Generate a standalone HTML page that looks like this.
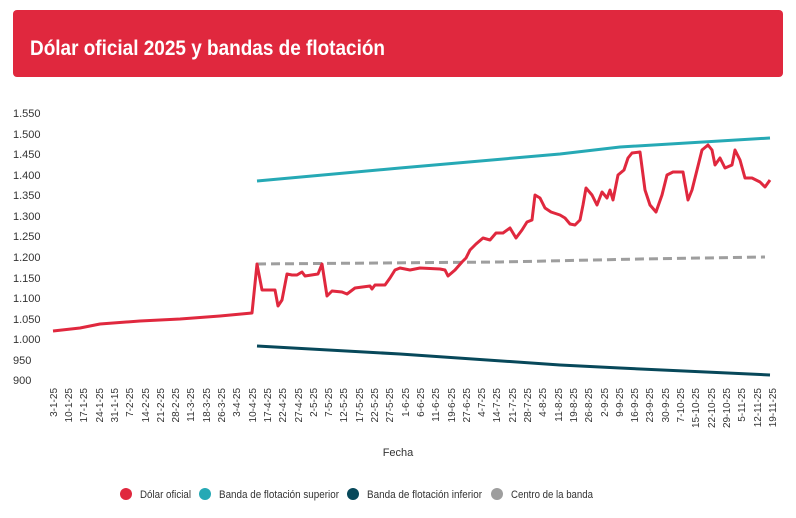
<!DOCTYPE html>
<html><head><meta charset="utf-8"><style>
body{margin:0;background:#fff;width:796px;height:513px;overflow:hidden}
</style></head><body>
<svg width="796" height="513" xmlns="http://www.w3.org/2000/svg" font-family="Liberation Sans, sans-serif">
<rect x="13" y="10" width="770" height="67" rx="4" fill="#e0283e"/>
<text x="30" y="55" fill="#fff" font-size="21" font-weight="bold" textLength="355" lengthAdjust="spacingAndGlyphs">Dólar oficial 2025 y bandas de flotación</text>
<g font-size="11" fill="#333">
<text x="13" y="117">1.550</text><text x="13" y="138">1.500</text><text x="13" y="158">1.450</text><text x="13" y="179">1.400</text><text x="13" y="199">1.350</text><text x="13" y="220">1.300</text><text x="13" y="240">1.250</text><text x="13" y="261">1.200</text><text x="13" y="282">1.150</text><text x="13" y="302">1.100</text><text x="13" y="323">1.050</text><text x="13" y="343">1.000</text><text x="13" y="364">950</text><text x="13" y="384">900</text>
</g>
<g font-size="10" fill="#333" text-anchor="end" id="xl"></g>
<text x="398" y="456" font-size="11" fill="#333" text-anchor="middle">Fecha</text>
<polyline fill="none" stroke="#26a9b5" stroke-width="3" points="257,181 400,168 560,154 620,147 770,138"/>
<polyline fill="none" stroke="#07485a" stroke-width="3" points="257,346 400,354 560,365 620,368 770,375"/>
<polyline fill="none" stroke="#9e9e9e" stroke-width="3" stroke-dasharray="9,5" points="257,264 500,262 640,259 765,257"/>
<polyline fill="none" stroke="#e0283e" stroke-width="3" stroke-linejoin="round" points="53,331 80,328 100,324 140,321 180,319 220,316 252,313 257,264 262,290 275,290 278,306 282,300 287,274 292,275 297,275 302,272 305,276 318,274 322,264 327,296 332,291 342,292 347,294 355,288 370,286 372,289 375,285 385,285 390,278 395,270 400,268 410,270 420,268 440,269 445,270 448,276 455,270 462,262 466,258 470,250 476,244 483,238 490,240 496,233 503,233 510,228 516,238 522,230 527,222 532,220 535,195 540,198 545,208 551,212 560,215 565,218 570,224 575,225 580,220 583,205 586,188 592,195 597,205 602,192 607,198 610,190 613,200 618,175 624,170 628,158 632,153 640,152 645,190 650,205 656,212 662,195 667,175 673,172 683,172 688,200 692,190 697,170 702,150 708,145 712,150 715,165 720,158 725,168 732,165 735,150 740,160 745,178 752,178 760,182 765,187 770,180"/>
<g font-size="11" fill="#333">
<circle cx="126" cy="494" r="6" fill="#e0283e"/><text x="140" y="498" textLength="51" lengthAdjust="spacingAndGlyphs">Dólar oficial</text>
<circle cx="205" cy="494" r="6" fill="#26a9b5"/><text x="219" y="498" textLength="120" lengthAdjust="spacingAndGlyphs">Banda de flotación superior</text>
<circle cx="353" cy="494" r="6" fill="#07485a"/><text x="367" y="498" textLength="115" lengthAdjust="spacingAndGlyphs">Banda de flotación inferior</text>
<circle cx="497" cy="494" r="6" fill="#9e9e9e"/><text x="511" y="498" textLength="82" lengthAdjust="spacingAndGlyphs">Centro de la banda</text>
</g>
<g font-size="10" fill="#333" text-anchor="end">
<text transform="translate(57,388) rotate(-90)">3-1-25</text>
<text transform="translate(72,388) rotate(-90)">10-1-25</text>
<text transform="translate(87,388) rotate(-90)">17-1-25</text>
<text transform="translate(103,388) rotate(-90)">24-1-25</text>
<text transform="translate(118,388) rotate(-90)">31-1-15</text>
<text transform="translate(133,388) rotate(-90)">7-2-25</text>
<text transform="translate(149,388) rotate(-90)">14-2-25</text>
<text transform="translate(164,388) rotate(-90)">21-2-25</text>
<text transform="translate(179,388) rotate(-90)">28-2-25</text>
<text transform="translate(194,388) rotate(-90)">11-3-25</text>
<text transform="translate(210,388) rotate(-90)">18-3-25</text>
<text transform="translate(225,388) rotate(-90)">26-3-25</text>
<text transform="translate(240,388) rotate(-90)">3-4-25</text>
<text transform="translate(256,388) rotate(-90)">10-4-25</text>
<text transform="translate(271,388) rotate(-90)">17-4-25</text>
<text transform="translate(286,388) rotate(-90)">22-4-25</text>
<text transform="translate(302,388) rotate(-90)">27-4-25</text>
<text transform="translate(317,388) rotate(-90)">2-5-25</text>
<text transform="translate(332,388) rotate(-90)">7-5-25</text>
<text transform="translate(347,388) rotate(-90)">12-5-25</text>
<text transform="translate(363,388) rotate(-90)">17-5-25</text>
<text transform="translate(378,388) rotate(-90)">22-5-25</text>
<text transform="translate(393,388) rotate(-90)">27-5-25</text>
<text transform="translate(409,388) rotate(-90)">1-6-25</text>
<text transform="translate(424,388) rotate(-90)">6-6-25</text>
<text transform="translate(439,388) rotate(-90)">11-6-25</text>
<text transform="translate(455,388) rotate(-90)">19-6-25</text>
<text transform="translate(470,388) rotate(-90)">27-6-25</text>
<text transform="translate(485,388) rotate(-90)">4-7-25</text>
<text transform="translate(500,388) rotate(-90)">14-7-25</text>
<text transform="translate(516,388) rotate(-90)">21-7-25</text>
<text transform="translate(531,388) rotate(-90)">28-7-25</text>
<text transform="translate(546,388) rotate(-90)">4-8-25</text>
<text transform="translate(562,388) rotate(-90)">11-8-25</text>
<text transform="translate(577,388) rotate(-90)">19-8-25</text>
<text transform="translate(592,388) rotate(-90)">26-8-25</text>
<text transform="translate(608,388) rotate(-90)">2-9-25</text>
<text transform="translate(623,388) rotate(-90)">9-9-25</text>
<text transform="translate(638,388) rotate(-90)">16-9-25</text>
<text transform="translate(653,388) rotate(-90)">23-9-25</text>
<text transform="translate(669,388) rotate(-90)">30-9-25</text>
<text transform="translate(684,388) rotate(-90)">7-10-25</text>
<text transform="translate(699,388) rotate(-90)">15-10-25</text>
<text transform="translate(715,388) rotate(-90)">22-10-25</text>
<text transform="translate(730,388) rotate(-90)">29-10-25</text>
<text transform="translate(745,388) rotate(-90)">5-11-25</text>
<text transform="translate(761,388) rotate(-90)">12-11-25</text>
<text transform="translate(776,388) rotate(-90)">19-11-25</text>
</g>
</svg>
</body></html>
